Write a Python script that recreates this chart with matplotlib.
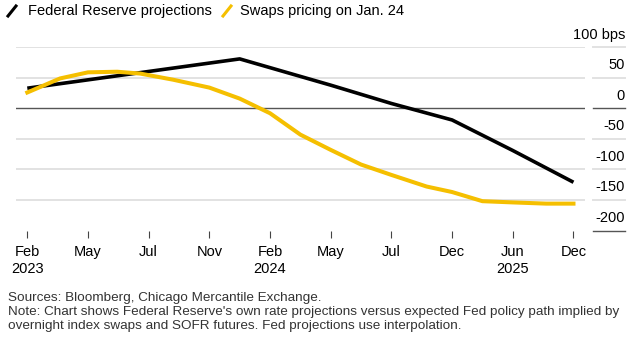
import matplotlib.pyplot as plt
from matplotlib.transforms import blended_transform_factory

plt.rcParams["font.family"] = ["Liberation Sans", "DejaVu Sans"]

# x positions are in units of tick steps (0 = Feb 2023 ... 9 = Dec 2025)
TICK_LABELS = ["Feb\n2023", "May", "Jul", "Nov", "Feb\n2024", "May", "Jul", "Dec", "Jun\n2025", "Dec"]

FED_X = [0, 3.5, 5, 6, 7, 8, 9]
FED_BPS = [33, 81, 38, 8, -19, -69, -121]

SWAPS_X = [0, 0.54, 1.0, 1.48, 1.86, 2.4, 3.0, 3.5, 4.0, 4.5, 5.0, 5.5, 6.0, 6.58, 7.0, 7.5, 8.0, 8.55, 9.0]
SWAPS_BPS = [26, 49, 59, 60, 57, 47, 34, 16, -8, -43, -68, -92, -109, -128, -137, -152, -154, -156, -156]

Y_TICKS = [100, 50, 0, -50, -100, -150, -200]

W, H = 632, 338
fig = plt.figure(figsize=(W / 100, H / 100), dpi=100)
ax = fig.add_axes([16 / W, 1 - 230.5 / H, (585 - 16) / W, (230.5 - 47.3) / H])

ax.plot(FED_X, FED_BPS, color="#000000", linewidth=2.6, solid_capstyle="butt", zorder=3)
ax.plot(SWAPS_X, SWAPS_BPS, color="#f5bf00", linewidth=2.9, solid_joinstyle="round", zorder=4)

ax.set_xlim(-0.186, 9.19)
ax.set_ylim(-200, 100)
for side in ax.spines.values():
    side.set_visible(False)
ax.set_yticks([])
ax.set_xticks(range(len(TICK_LABELS)), TICK_LABELS, fontsize=10.5, linespacing=1.25)
ax.tick_params(axis="x", length=5, width=0.8, color="#444444", pad=5.5, labelcolor="#000000")

# gridlines in the plot and short ones under the value labels
col = blended_transform_factory(fig.transFigure, ax.transData)
for v in Y_TICKS:
    dark = v in (0, -200)
    if v != -200:
        ax.axhline(v, color="#555555" if v == 0 else "#e2e2e2",
                   linewidth=1.0 if v == 0 else 1.4, zorder=1)
    ax.plot([593 / W, 625 / W], [v, v], transform=col, clip_on=False,
            color="#555555" if dark else "#e2e2e2", linewidth=1.0 if dark else 1.4)
    label = f"{v} bps" if v == 100 else f"{v}"
    ax.annotate(label, xy=(625 / W, v), xycoords=col, xytext=(0, 4),
                textcoords="offset points", ha="right", va="bottom", fontsize=10.5)

# legend
fig.add_artist(plt.Line2D([8 / W, 16 / W], [1 - 16 / H, 1 - 6 / H], color="#000000", linewidth=2.2))
fig.text(28 / W, 1 - 11 / H, "Federal Reserve projections", fontsize=10.5, va="center")
fig.add_artist(plt.Line2D([223 / W, 231 / W], [1 - 16 / H, 1 - 6 / H], color="#f5bf00", linewidth=2.2))
fig.text(240 / W, 1 - 11 / H, "Swaps pricing on Jan. 24", fontsize=10.5, va="center")

footer = (
    "Sources: Bloomberg, Chicago Mercantile Exchange.\n"
    "Note: Chart shows Federal Reserve's own rate projections versus expected Fed policy path implied by\n"
    "overnight index swaps and SOFR futures. Fed projections use interpolation."
)
fig.text(8 / W, 1 - 292 / H, footer, fontsize=9.7, va="top", color="#333333", linespacing=1.22)

fig.savefig("out.png", dpi=100)
